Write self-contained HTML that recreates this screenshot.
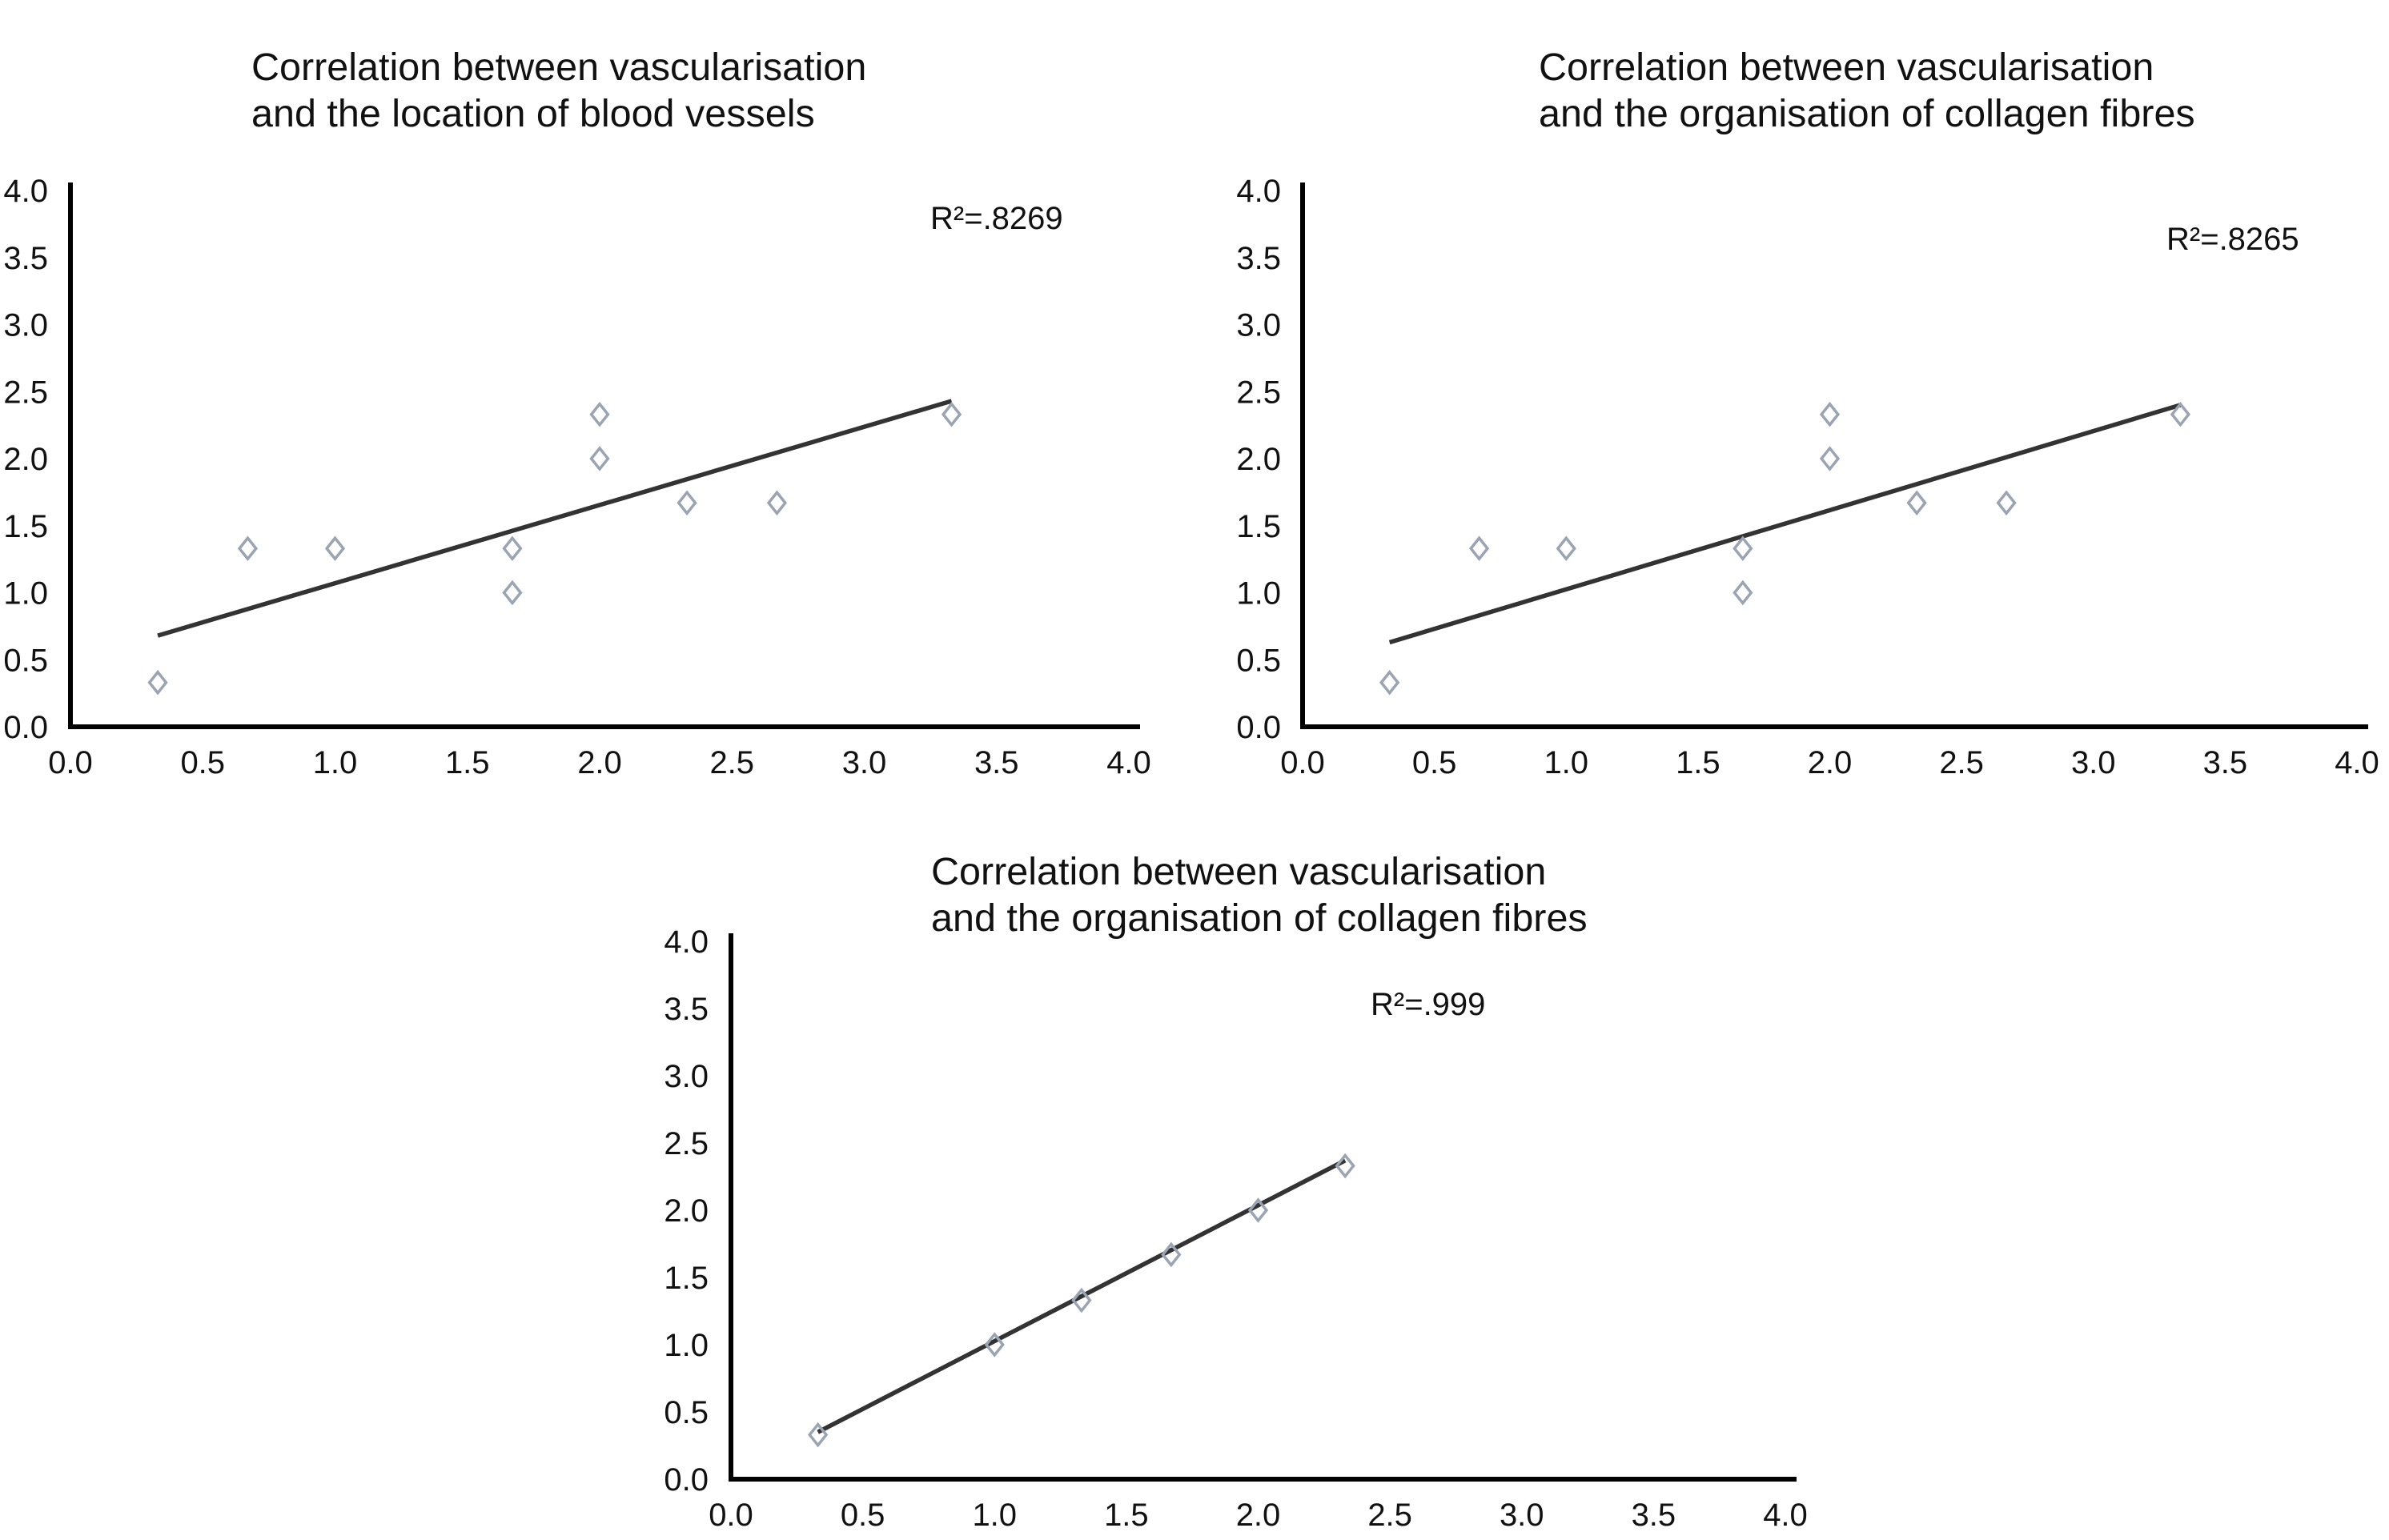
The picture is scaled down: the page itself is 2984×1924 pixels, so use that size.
<!DOCTYPE html>
<html><head><meta charset="utf-8"><style>
html,body{margin:0;padding:0;background:#fff;width:2984px;height:1924px;overflow:hidden}
svg{display:block}
text{font-family:"Liberation Sans Narrow","Liberation Sans",sans-serif;fill:#111}
.t{font-family:"Liberation Sans",sans-serif;font-size:48.5px}
</style></head><body>
<svg id="s" width="2984" height="1924" viewBox="0 0 2984 1924"></svg>
<script>
const ticks = ["0.0","0.5","1.0","1.5","2.0","2.5","3.0","3.5","4.0"];
const tickValues = [0,0.5,1,1.5,2,2.5,3,3.5,4];
const xs1 = [0.33,0.67,1.0,1.67,1.67,2.0,2.0,2.33,2.67,3.33];
const ys1 = [0.33,1.33,1.33,1.33,1.0,2.33,2.0,1.67,1.67,2.33];
const trend1 = [[0.33,0.68],[3.33,2.43]];
const xs2 = [0.33,0.67,1.0,1.67,1.67,2.0,2.0,2.33,2.67,3.33];
const ys2 = [0.33,1.33,1.33,1.33,1.0,2.33,2.0,1.67,1.67,2.33];
const trend2 = [[0.33,0.63],[3.33,2.4]];
const xs3 = [0.33,1.0,1.33,1.67,2.0,2.33];
const ys3 = [0.33,1.0,1.33,1.67,2.0,2.33];
const trend3 = [[0.33,0.35],[2.33,2.37]];
const r2 = ["R²=.8269","R²=.8265","R²=.999"];

const NS="http://www.w3.org/2000/svg";
const svg=document.getElementById('s');
function mk(tag,attrs,parent){const e=document.createElementNS(NS,tag);for(const k in attrs)e.setAttribute(k,attrs[k]);(parent||svg).appendChild(e);return e;}

function chart(id,cfg,xs,ys,trend,r2txt){
  const g=mk('g',{});
  
  
  const sx=v=>cfg.x0+(cfg.x4-cfg.x0)*v/4;
  const sy=v=>cfg.y0-(cfg.y0-cfg.y4)*v/4;
  cfg.title.forEach((line,i)=>{
    const t=mk('text',{x:cfg.tx,y:cfg.ty+i*58,class:'t'},g);t.textContent=line;
    
    
  });
  const ya=mk('line',{x1:cfg.x0,y1:cfg.y0+3,x2:cfg.x0,y2:cfg.y4-10,stroke:'#000','stroke-width':6},g);
  
  
  const xa=mk('line',{x1:cfg.x0-3,y1:cfg.y0,x2:cfg.x4+14,y2:cfg.y0,stroke:'#000','stroke-width':6},g);
  
  
  tickValues.forEach((v,i)=>{
    const a=mk('text',{x:sx(v),y:cfg.y0+58,'text-anchor':'middle','font-size':40},g);a.textContent=ticks[i];
    
    
    const b=mk('text',{x:cfg.ylx,y:sy(v)+14,'text-anchor':'end','font-size':40},g);b.textContent=ticks[i];
    
    
  });
  const tl=mk('line',{x1:sx(trend[0][0]),y1:sy(trend[0][1]),x2:sx(trend[1][0]),y2:sy(trend[1][1]),stroke:'#333','stroke-width':5.5},g);
  
  
  xs.forEach((x,i)=>{
    const cx=sx(x),cy=sy(ys[i]),r=13;
    const p=mk('polygon',{points:`${cx},${cy-r} ${cx+r*0.8},${cy} ${cx},${cy+r} ${cx-r*0.8},${cy}`,fill:'none',stroke:'#9aa4b2','stroke-width':3.5},g);
    
    
  });
  const r=mk('text',{x:cfg.rx,y:cfg.ry,'font-size':40},g);
  r.textContent=r2txt;
  
  
}
chart('chart-location',{x0:88,x4:1410,y0:908,y4:238,ylx:60,tx:314,ty:100,title:["Correlation between vascularisation","and the location of blood vessels"],rx:1162,ry:286},xs1,ys1,trend1,r2[0]);
chart('chart-collagen',{x0:1627,x4:2944,y0:908,y4:238,ylx:1600,tx:1922,ty:100,title:["Correlation between vascularisation","and the organisation of collagen fibres"],rx:2706,ry:312},xs2,ys2,trend2,r2[1]);
chart('chart-collagen-2',{x0:913,x4:2230,y0:1848,y4:1176,ylx:885,tx:1163,ty:1105,title:["Correlation between vascularisation","and the organisation of collagen fibres"],rx:1712,ry:1268},xs3,ys3,trend3,r2[2]);
</script>
</body></html>
